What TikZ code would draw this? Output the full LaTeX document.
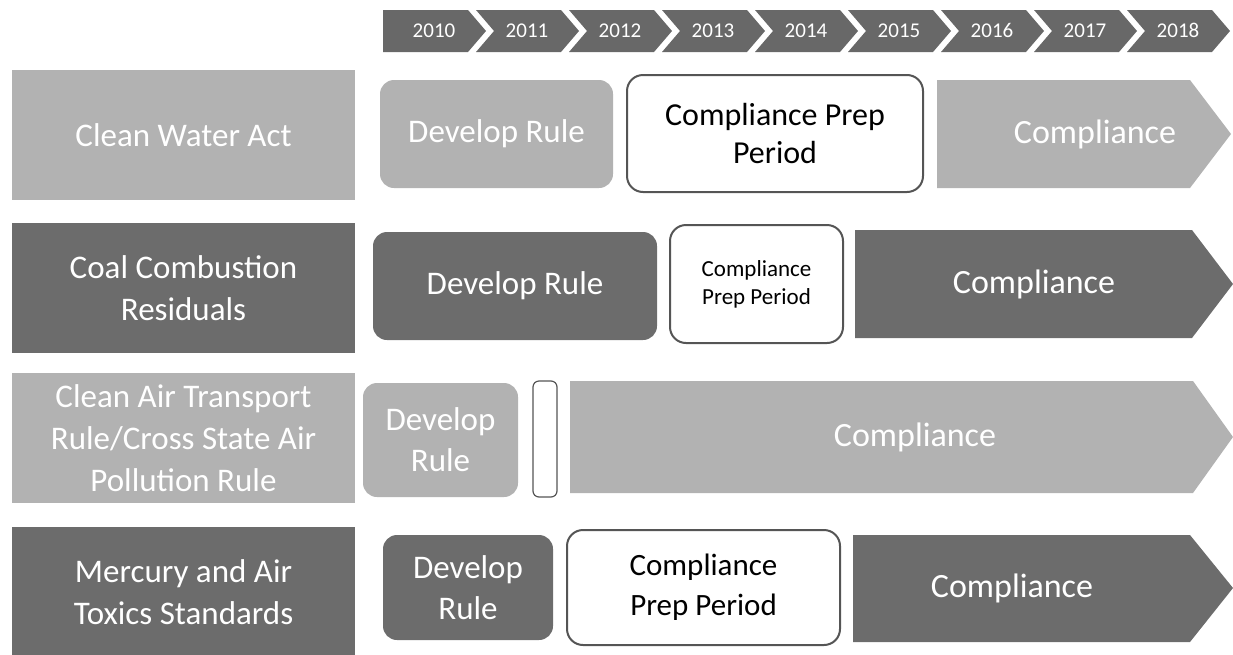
\documentclass[tikz,border=0pt]{standalone}
\usepackage{fontspec}
\setmainfont{Carlito}
\usetikzlibrary{positioning}

\definecolor{lightrow}{HTML}{B2B2B2}
\definecolor{darkrow}{HTML}{6C6C6C}
\definecolor{yearfill}{HTML}{686868}
\definecolor{edgegray}{HTML}{555555}

\begin{document}
\begin{tikzpicture}[x=1pt,y=-1pt,
  law/.style={fill=#1,text=white,minimum width=343pt,minimum height=130pt,
    align=center,inner sep=0pt,font=\fontsize{33}{42}\selectfont},
  develop/.style={fill=#1,text=white,rounded corners=14pt,align=center,
    inner sep=0pt,font=\fontsize{33}{41}\selectfont},
  prep/.style={draw=edgegray,line width=2pt,fill=white,rounded corners=16pt,
    align=center,inner sep=0pt},
  word/.style={text=white,font=\fontsize{34}{40}\selectfont},
  yeartext/.style={text=white,font=\fontsize{21}{24}\selectfont,
    text height=13pt,text depth=0pt,inner sep=0pt}]

\useasboundingbox (0,0) rectangle (1233,654);

% years
\fill[yearfill] (383,10) -- (468,10) -- (486,31) -- (468,52) -- (383,52) -- cycle;
\node[yeartext] (y2010) at (434,31) {2010};
\foreach \yr [count=\i] in {2011,...,2018} {
  \pgfmathsetmacro\xl{383+93*\i}
  \fill[yearfill] (\xl,10) -- (\xl+85,10) -- (\xl+103,31) -- (\xl+85,52)
    -- (\xl,52) -- (\xl+18,31) -- cycle;
  \node[yeartext] (y\yr) at (\xl+51,31) {\yr};
}

% rules
\node[law=lightrow] (cwa) at (183.5,135) {Clean Water Act};
\node[law=darkrow] (ccr) at (183.5,288) {Coal Combustion\\Residuals};
\node[law=lightrow] (csapr) at (183.5,438) {Clean Air Transport\\Rule/Cross State Air\\Pollution Rule};
\node[law=darkrow] (mats) at (183.5,592) {Mercury and Air\\Toxics Standards};

% clean water act
\node[develop=lightrow,minimum width=233pt,minimum height=108pt] (dev1) at (496.5,134) {Develop Rule};
\node[prep,minimum width=296pt,minimum height=117pt,font=\fontsize{32}{38}\selectfont] (prep1) at (775,133.5) {Compliance Prep\\Period};
\fill[lightrow] (937,80) -- (1190,80) -- (1231,134) -- (1190,188) -- (937,188) -- cycle;
\node[word] (comp1) at (1095,134) {Compliance};

% coal combustion residuals
\node[develop=darkrow,minimum width=284pt,minimum height=108pt] (dev2) at (515,286) {Develop Rule};
\node[prep,minimum width=173pt,minimum height=118pt,font=\fontsize{23}{28}\selectfont] (prep2) at (756.5,284) {Compliance\\Prep Period};
\fill[darkrow] (855,230) -- (1192,230) -- (1233,284) -- (1192,338) -- (855,338) -- cycle;
\node[word] (comp2) at (1034,284) {Compliance};

% cross state air pollution rule
\node[develop=lightrow,minimum width=155pt,minimum height=114pt] (dev3) at (440.5,440) {Develop\\Rule};
\node[prep,rounded corners=6pt,line width=1.2pt,minimum width=24pt,minimum height=116pt] (gap3) at (545,439) {};
\fill[lightrow] (570,381) -- (1193,381) -- (1233,437) -- (1193,493) -- (570,493) -- cycle;
\node[word] (comp3) at (915,437) {Compliance};

% mercury and air toxics standards
\node[develop=darkrow,minimum width=170pt,minimum height=105pt] (dev4) at (468,587.5) {Develop\\Rule};
\node[prep,minimum width=273pt,minimum height=115pt,font=\fontsize{31}{40}\selectfont] (prep4) at (703.5,587.5) {Compliance\\Prep Period};
\fill[darkrow] (853,535) -- (1190,535) -- (1233,588) -- (1190,642) -- (853,642) -- cycle;
\node[word] (comp4) at (1012,588) {Compliance};
\end{tikzpicture}
\end{document}
